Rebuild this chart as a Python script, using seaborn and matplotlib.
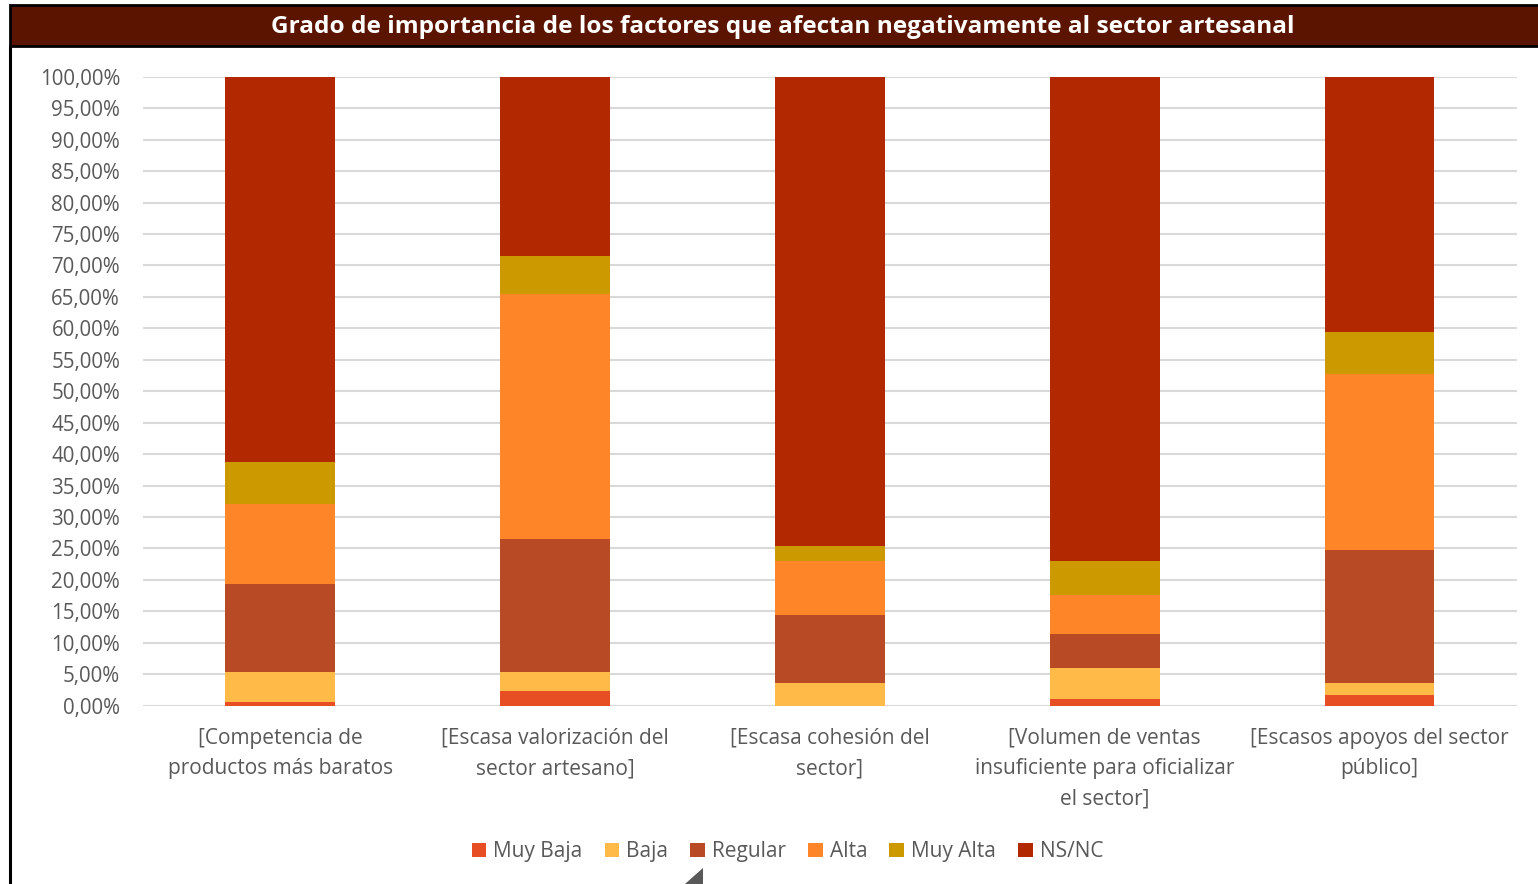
import matplotlib
matplotlib.use("Agg")
import matplotlib.pyplot as plt
from matplotlib.patches import Rectangle, Patch, Polygon
from matplotlib.lines import Line2D
from matplotlib.ticker import FuncFormatter
import numpy as np
import pandas as pd
import seaborn as sns

# Factors (x categories)
categories = [
    "[Competencia de\nproductos más baratos",
    "[Escasa valorización del\nsector artesano]",
    "[Escasa cohesión del\nsector]",
    "[Volumen de ventas\ninsuficiente para oficializar\nel sector]",
    "[Escasos apoyos del sector\npúblico]",
]

# Share of answers per importance level (%)
muy_baja = [0.54, 2.34, 0.00, 1.11, 1.75]
baja     = [4.87, 3.07, 3.56, 4.88, 1.81]
regular  = [13.89, 21.14, 10.91, 5.46, 21.24]
alta     = [12.76, 38.90, 8.53, 6.10, 27.90]
muy_alta = [6.67, 6.05, 2.44, 5.45, 6.70]
ns_nc    = [61.27, 28.50, 74.56, 77.00, 40.60]

levels = ["Muy Baja", "Baja", "Regular", "Alta", "Muy Alta", "NS/NC"]
colors = ["#E84E23", "#FFBA47", "#B84A26", "#FF8628", "#CC9900", "#B22800"]

df = pd.DataFrame(
    {"Muy Baja": muy_baja, "Baja": baja, "Regular": regular,
     "Alta": alta, "Muy Alta": muy_alta, "NS/NC": ns_nc},
    index=categories,
)
cum = df[levels].cumsum(axis=1)

sns.set_theme(style="white")
plt.rcParams["font.family"] = ["Open Sans", "DejaVu Sans"]

fig = plt.figure(figsize=(15.38, 8.84), dpi=100)
fig.patch.set_facecolor("white")
ax = fig.add_axes([0.093, 0.2017, 0.8933, 0.7115])

# Stacked bars: draw cumulative totals from the top level down
for lvl, col in reversed(list(zip(levels, colors))):
    sns.barplot(x=categories, y=cum[lvl].values, color=col, width=0.4,
                saturation=1, ax=ax, zorder=3, linewidth=0)

ax.set_ylim(0, 100)
ax.set_xlim(-0.5, 4.5)
ax.set_yticks(np.arange(0, 101, 5))
ax.yaxis.set_major_formatter(FuncFormatter(lambda v, p: f"{v:.2f}%".replace(".", ",")))
ax.grid(axis="y", color="#D9D9D9", linewidth=1.5, zorder=0)
ax.grid(axis="x", visible=False)
for s in ax.spines.values():
    s.set_visible(False)
ax.tick_params(axis="both", length=0, colors="#595959")
ax.tick_params(axis="y", pad=16.5, labelsize=14.8)
ax.tick_params(axis="x", pad=16, labelsize=15)
ax.set_xticks(range(len(categories)))
ax.set_xticklabels(categories, linespacing=1.58)
ax.set_xlabel("")
ax.set_ylabel("")

# Legend
handles = [Patch(facecolor=c, edgecolor="none") for c in colors]
fig.legend(handles, levels, loc="center", bbox_to_anchor=(0.512, 0.0365),
           ncol=6, frameon=False, fontsize=15, handlelength=0.7,
           handleheight=0.7, handletextpad=0.35, columnspacing=1.05,
           labelcolor="#595959")

# Title band and outer frame
W, H = 1538, 884
fig.patches.append(Rectangle((10 / W, 1 - 46 / H), 1 - 10 / W + 0.01, 41 / H,
                             transform=fig.transFigure, facecolor="#5A1400",
                             edgecolor="black", linewidth=2, zorder=5))
fig.lines.append(Line2D([10 / W, 10 / W], [0, 1 - 46 / H], transform=fig.transFigure,
                        color="black", linewidth=2.2))
fig.text(0.509, 1 - 27 / H, "Grado de importancia de los factores que afectan negativamente al sector artesanal",
         ha="center", va="center", color="white", fontsize=17.6, fontweight="bold", zorder=6)

# Resize handle
fig.patches.append(Polygon([(703 / W, 1 - 868 / H), (703 / W, 0), (685 / W, 0)],
                           closed=True, transform=fig.transFigure,
                           facecolor="#595959", edgecolor="none"))

fig.savefig("out.png", dpi=100)
